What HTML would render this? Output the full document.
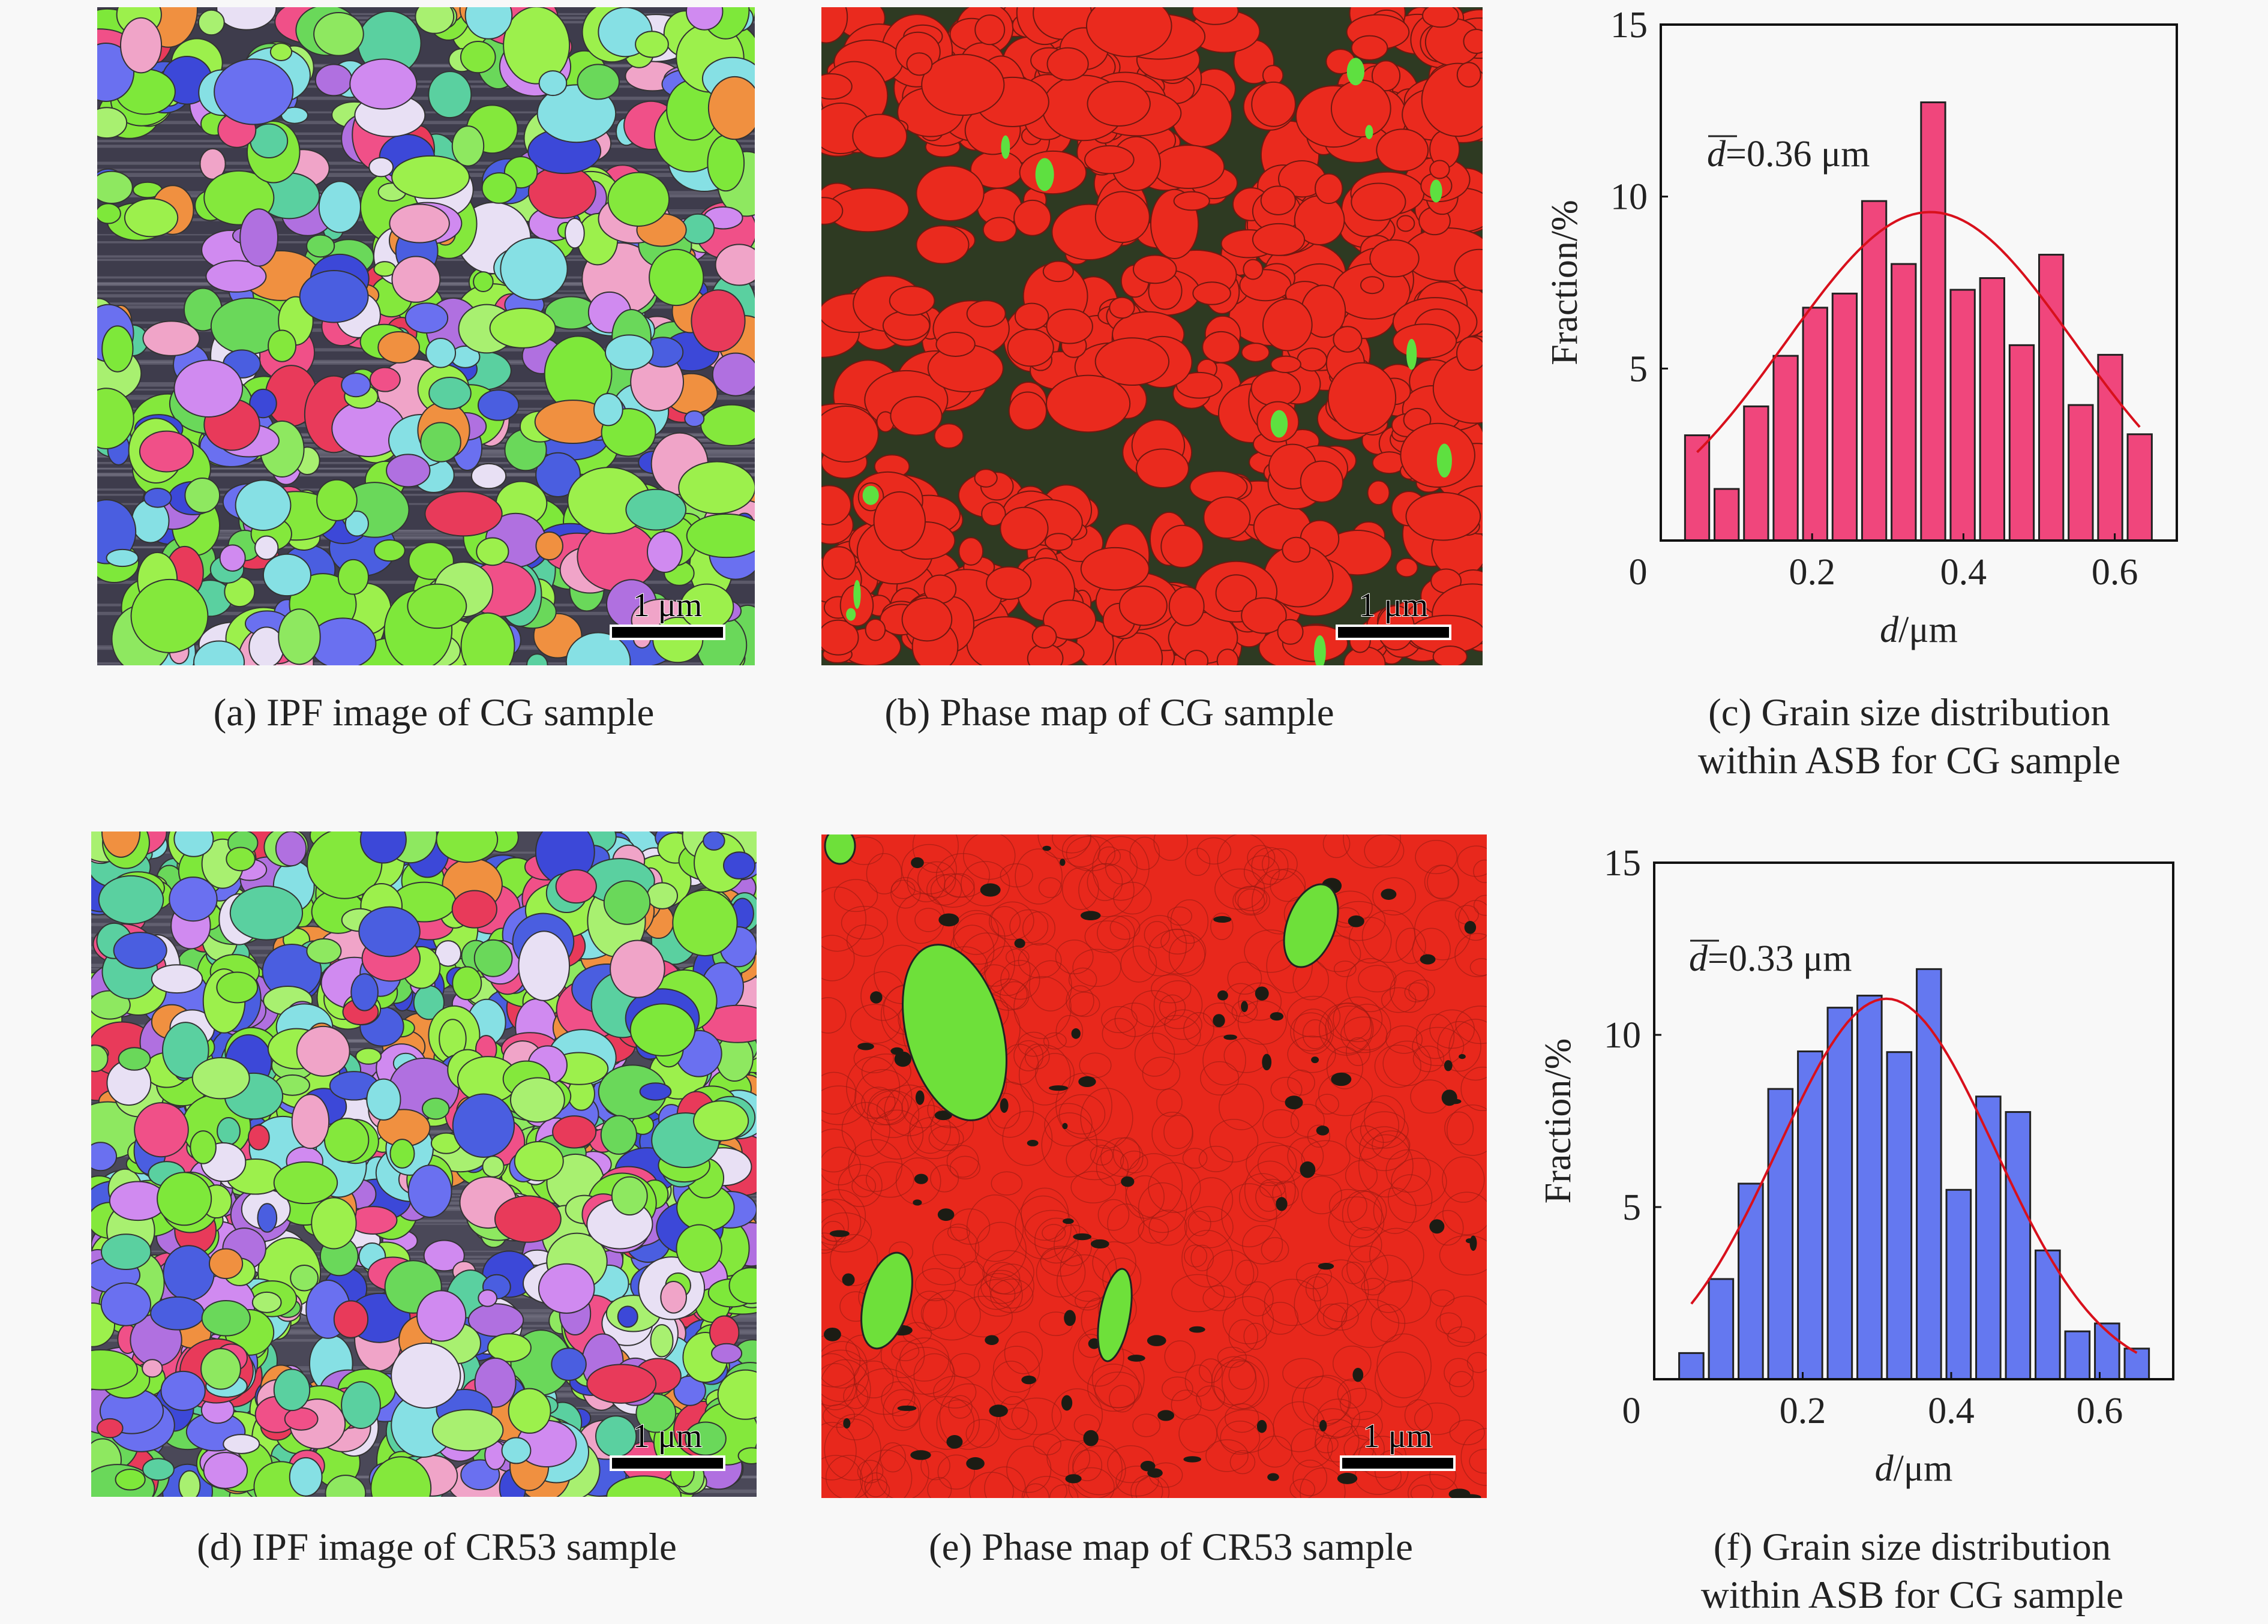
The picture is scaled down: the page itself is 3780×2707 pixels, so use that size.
<!DOCTYPE html>
<html><head><meta charset="utf-8">
<style>
html,body{margin:0;padding:0;background:#f8f8f8;}
body{width:3780px;height:2707px;position:relative;overflow:hidden;font-family:"Liberation Serif",serif;}
.cap{position:absolute;font-size:65px;color:#222;text-align:center;line-height:80px;white-space:nowrap;}
svg{position:absolute;left:0;top:0;}
</style></head>
<body>
<svg id="fig" width="3780" height="2707"></svg>
<div class="cap" style="left:323px;top:1148px;width:800px">(a) IPF image of CG sample</div>
<div class="cap" style="left:1449px;top:1148px;width:800px">(b) Phase map of CG sample</div>
<div class="cap" style="left:2732px;top:1148px;width:900px">(c) Grain size distribution<br>within ASB for CG sample</div>
<div class="cap" style="left:328px;top:2539px;width:800px">(d) IPF image of CR53 sample</div>
<div class="cap" style="left:1548px;top:2539px;width:800px">(e) Phase map of CR53 sample</div>
<div class="cap" style="left:2737px;top:2539px;width:900px">(f) Grain size distribution<br>within ASB for CG sample</div>
<script>
// ---- chart data ----
const cCenters = [0.048,0.087,0.126,0.165,0.204,0.243,0.282,0.321,0.360,0.399,0.438,0.477,0.516,0.555,0.594,0.633];
const cValues  = [3.06,1.5,3.9,5.37,6.77,7.18,9.87,8.04,12.74,7.29,7.63,5.68,8.31,3.94,5.4,3.09];
const cFit     = [9.55,0.356,0.19,0.048,0.633]; // peak, mean, sigma, xStart, xEnd
const fCenters = [0.050,0.090,0.130,0.170,0.210,0.250,0.290,0.330,0.370,0.410,0.450,0.490,0.530,0.570,0.610,0.650];
const fValues  = [0.76,2.91,5.68,8.43,9.52,10.79,11.14,9.5,11.91,5.5,8.21,7.76,3.74,1.39,1.62,0.89];
const fFit     = [11.05,0.3127,0.146,0.050,0.650];
const yTicks = [5,10,15];
const xTicks = [0.2,0.4,0.6];
const xTickLabels = ["0.2","0.4","0.6"];

const NS="http://www.w3.org/2000/svg";
const svg=document.getElementById('fig');
function mk(tag,attrs,parent){const e=document.createElementNS(NS,tag);for(const k in attrs)e.setAttribute(k,attrs[k]);(parent||svg).appendChild(e);return e;}

let seed=12345;
function rnd(){seed=(seed*1103515245+12345)%2147483648;return seed/2147483648;}
function pick(arr){return arr[Math.floor(rnd()*arr.length)];}

function ipfPanel(name,x,y,w,h,n,bg,rmin,rvar){
  const g=mk('g',{});
  
  
  mk('rect',{x:x,y:y,width:w,height:h,fill:bg},g);
  const cp=mk('clipPath',{id:name+'-clip'},g);mk('rect',{x:x,y:y,width:w,height:h},cp);
  const gg=mk('g',{'clip-path':'url(#'+name+'-clip)'},g);
  for(let i=0;i<80;i++){mk('rect',{x:x,y:y+rnd()*h,width:w,height:2+rnd()*4,fill:'#7a7888',opacity:0.5},gg);}
  const cols=['#84e83c','#9cf04c','#6ad85a','#8ee860','#a8f070','#7ee83a','#84e83c','#9cf04c','#4a5ee0','#6a70f0','#3c48d8','#b070e0','#d08af0','#f05088','#f0a4c8','#86e0e4','#e8e0f4','#f09040','#e83a5a','#5ad0a0'];
  for(let i=0;i<n;i++){
    const px=rnd(),py=rnd();
    const r=rmin+rnd()*rvar;
    mk('ellipse',{cx:x+px*w,cy:y+py*h,rx:r*(0.8+rnd()*0.6),ry:r*(0.7+rnd()*0.6),fill:pick(cols),stroke:'#333','stroke-width':2},gg);
  }
  return g;
}
function scaleBar(x,y,w){
  const g=mk('g',{});
  
  
  mk('rect',{x:x-4,y:y-4,width:w+8,height:26,fill:'#fff'},g);
  mk('rect',{x:x,y:y,width:w,height:18,fill:'#000'},g);
  const t=mk('text',{x:x+w/2,y:y-18,'text-anchor':'middle','font-size':56,fill:'#000',stroke:'#fff','stroke-width':2,'paint-order':'stroke','font-family':'Liberation Serif, serif'},g);
  t.textContent='1 μm';
}

// (a)
ipfPanel('ipf-map-cg',162,12,1096,1097,480,'#3e3c4c',16,36);
scaleBar(1020,1045,185);
// (b)
(function(){
  const x=1369,y=12,w=1102,h=1097;
  const g=mk('g',{});
  
  
  mk('rect',{x:x,y:y,width:w,height:h,fill:'#2e3a22'},g);
  const cp=mk('clipPath',{id:'pb-clip'},g);mk('rect',{x:x,y:y,width:w,height:h},cp);
  const gg=mk('g',{'clip-path':'url(#pb-clip)'},g);
  for(let i=0;i<700;i++){
    const px=rnd(),py=rnd();
    const dark=(px<0.35&&py>0.2&&py<0.75)||(px>0.4&&px<0.6&&py>0.55&&py<0.8)||(px>0.55&&py<0.25&&px<0.8);
    if(dark&&rnd()<0.7)continue;
    const r=16+rnd()*36;
    mk('ellipse',{cx:x+px*w,cy:y+py*h,rx:r*(0.8+rnd()*0.7),ry:r*(0.7+rnd()*0.5),fill:'#ea2a1e',stroke:'#701810','stroke-width':2},gg);
  }
  for(let i=0;i<12;i++){mk('ellipse',{cx:x+rnd()*w,cy:y+rnd()*h,rx:6+rnd()*10,ry:10+rnd()*20,fill:'#5ee040'},gg);}
})();
scaleBar(2230,1045,185);
// (d)
ipfPanel('ipf-map-cr53',152,1386,1109,1109,1100,'#4a4858',18,30);
scaleBar(1020,2430,185);
// (e)
(function(){
  const x=1369,y=1391,w=1109,h=1106;
  const g=mk('g',{});
  
  
  mk('rect',{x:x,y:y,width:w,height:h,fill:'#e8281c'},g);
  const cp=mk('clipPath',{id:'pe-clip'},g);mk('rect',{x:x,y:y,width:w,height:h},cp);
  const gg=mk('g',{'clip-path':'url(#pe-clip)'},g);
  for(let i=0;i<500;i++){const r=18+rnd()*30;mk('ellipse',{cx:x+rnd()*w,cy:y+rnd()*h,rx:r,ry:r*(0.7+rnd()*0.5),fill:'none',stroke:'#9a1a12','stroke-width':1.5,opacity:0.6},gg);}
  for(let i=0;i<90;i++){mk('ellipse',{cx:x+rnd()*w,cy:y+rnd()*h,rx:4+rnd()*14,ry:4+rnd()*10,fill:'#1c1c14'},gg);}
  const greens=[[1591,1721,80,150,-15],[2185,1543,40,72,20],[1478,2168,38,82,15],[1858,2192,25,78,10],[1400,1410,25,30,0]];
  greens.forEach(p=>mk('ellipse',{cx:p[0],cy:p[1],rx:p[2],ry:p[3],transform:'rotate('+p[4]+' '+p[0]+' '+p[1]+')',fill:'#6ee03a',stroke:'#222','stroke-width':3},gg));
})();
scaleBar(2237,2430,185);

// ---- histograms ----
function chart(name,L,R,T,B,xmax,centers,values,fit,barFill,binW,meanText,annX,annY){
  const g=mk('g',{});
  
  
  const sx=v=>L+v/xmax*(R-L), sy=v=>B-v/15*(B-T);
  const bw=(sx(binW)-sx(0))*0.82;
  centers.forEach((c,i)=>{
    const r=mk('rect',{x:sx(c)-bw/2,y:sy(values[i]),width:bw,height:B-sy(values[i]),fill:barFill,stroke:'#222','stroke-width':3},g);
    
    
  });
  let d='';
  for(let k=0;k<=80;k++){const xv=fit[3]+(fit[4]-fit[3])*k/80;const yv=fit[0]*Math.exp(-Math.pow(xv-fit[1],2)/(2*fit[2]*fit[2]));d+=(k?'L':'M')+sx(xv).toFixed(1)+' '+sy(yv).toFixed(1);}
  const fl=mk('path',{d:d,fill:'none',stroke:'#d8101c','stroke-width':4},g);
  
  
  const fr=mk('rect',{x:L,y:T,width:R-L,height:B-T,fill:'none',stroke:'#111','stroke-width':4},g);
  
  
  const ft={'font-family':'Liberation Serif, serif','font-size':62,fill:'#222'};
  yTicks.forEach(v=>{
    mk('line',{x1:L,x2:L+12,y1:sy(v),y2:sy(v),stroke:'#111','stroke-width':3},g);
    const t=mk('text',Object.assign({x:L-22,y:sy(v)+21,'text-anchor':'end'},ft),g);t.textContent=v;
    
    
  });
  xTicks.forEach((v,i)=>{
    mk('line',{x1:sx(v),x2:sx(v),y1:B,y2:B-12,stroke:'#111','stroke-width':3},g);
    const t=mk('text',Object.assign({x:sx(v),y:B+73,'text-anchor':'middle'},ft),g);t.textContent=xTickLabels[i];
    
    
  });
  const z=mk('text',Object.assign({x:L-38,y:B+73,'text-anchor':'middle'},ft),g);z.textContent='0';
  const yl=mk('text',Object.assign({x:0,y:0,'text-anchor':'middle',transform:'translate('+(L-140)+' '+((T+B)/2)+') rotate(-90)'},ft),g);
  yl.textContent='Fraction/%';
  
  
  const xl=mk('text',Object.assign({x:(L+R)/2,y:B+169,'text-anchor':'middle'},ft),g);
  xl.innerHTML='<tspan font-style="italic">d</tspan>/μm';
  
  
  const an=mk('text',Object.assign({x:annX,y:annY},ft),g);
  an.innerHTML='<tspan font-style="italic">d</tspan>='+meanText+' μm';
  
  
  mk('line',{x1:annX+2,x2:annX+50,y1:annY-50,y2:annY-50,stroke:'#222','stroke-width':3},g);
}
chart('histogram-cg',2768,3628,41,901,0.682,cCenters,cValues,cFit,'#f0467c',0.039,'0.36',2845,277);
chart('histogram-cr53',2757,3622,1438,2299,0.699,fCenters,fValues,fFit,'#6478f0',0.040,'0.33',2815,1618);
</script>
</body></html>
